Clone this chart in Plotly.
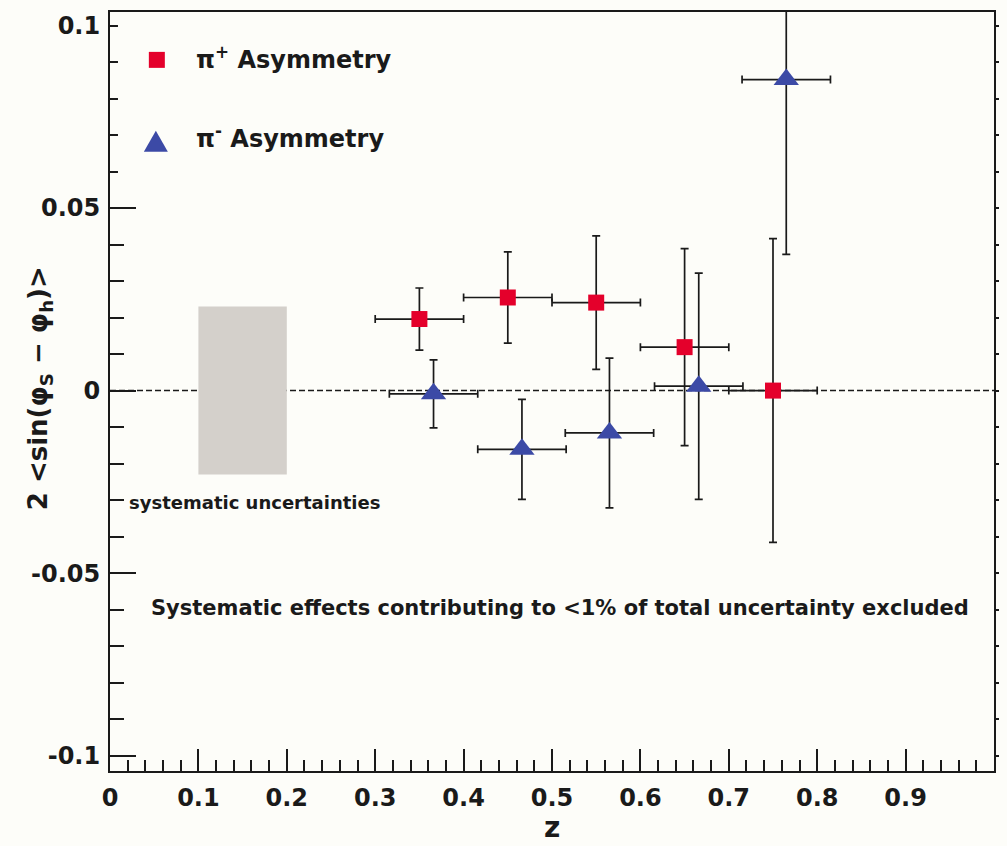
import plotly.graph_objects as go

# pi+ asymmetry vs z
pip_z = [0.35, 0.45, 0.55, 0.65, 0.75]
pip_asym = [0.0196, 0.0255, 0.0241, 0.0119, 0.0000]
pip_err = [0.0085, 0.0125, 0.0183, 0.0270, 0.0416]
pip_zerr = [0.05, 0.05, 0.05, 0.05, 0.05]

# pi- asymmetry vs z
pim_z = [0.366, 0.466, 0.565, 0.666, 0.765]
pim_asym = [-0.0009, -0.0161, -0.0116, 0.0012, 0.0852]
pim_err = [0.0093, 0.0137, 0.0205, 0.0310, 0.0479]
pim_zerr = [0.05, 0.05, 0.05, 0.05, 0.05]

# systematic uncertainty band
sys_z = [0.1, 0.2]
sys_half = 0.023

x_tick_vals = [0, 0.1, 0.2, 0.3, 0.4, 0.5, 0.6, 0.7, 0.8, 0.9]
x_tick_text = ["0", "0.1", "0.2", "0.3", "0.4", "0.5", "0.6", "0.7", "0.8", "0.9"]
y_tick_vals = [-0.1, -0.05, 0, 0.05, 0.1]
y_tick_text = ["-0.1", "-0.05", "0", "0.05", "0.1"]

BG = "#fdfdf9"
INK = "#1a1a1a"
RED = "#e4002b"
BLUE = "#3c4aa6"
FONT = "DejaVu Sans"

W, H = 1007, 846
L, R, T, B = 110, 10, 10, 75
PW, PH = W - L - R, H - T - B


def px_x(p):
    return (p - L) / PW


def px_y(p):
    return (H - B - p) / PH


fig = go.Figure()

fig.add_trace(go.Scatter(
    x=pip_z, y=pip_asym, mode="markers", name="π+ Asymmetry",
    marker=dict(symbol="square", size=16, color=RED),
    error_y=dict(type="data", array=pip_err, color=INK, thickness=1.7, width=4),
    error_x=dict(type="data", array=pip_zerr, color=INK, thickness=1.7, width=4),
    showlegend=False,
))
fig.add_trace(go.Scatter(
    x=pim_z, y=pim_asym, mode="markers", name="π- Asymmetry",
    marker=dict(symbol="triangle-up", size=22, color=BLUE),
    error_y=dict(type="data", array=pim_err, color=INK, thickness=1.7, width=4),
    error_x=dict(type="data", array=pim_zerr, color=INK, thickness=1.7, width=4),
    showlegend=False,
))
# invisible trace to activate the right-hand axis
fig.add_trace(go.Scatter(x=[0], y=[0], yaxis="y2", mode="markers",
                         marker=dict(opacity=0), showlegend=False, hoverinfo="skip"))

shapes = [
    dict(type="rect", xref="x", yref="y", x0=sys_z[0], x1=sys_z[1],
         y0=-sys_half, y1=sys_half, fillcolor="#d4d0cb", line=dict(width=0),
         layer="below"),
    dict(type="line", xref="paper", yref="y", x0=0, x1=1, y0=0, y1=0,
         line=dict(color=INK, width=1.5, dash="6px,3px"), layer="below"),
    # legend box covering the axis ticks
    dict(type="rect", xref="paper", yref="paper", x0=px_x(118), x1=px_x(420),
         y0=px_y(190), y1=px_y(12), fillcolor=BG, line=dict(width=0), layer="above"),
    # legend glyphs
    dict(type="rect", xref="paper", yref="paper", xsizemode="pixel", ysizemode="pixel",
         xanchor=px_x(157), yanchor=px_y(58), x0=-8, x1=8, y0=-8, y1=8,
         fillcolor=RED, line=dict(width=0), layer="above"),
    dict(type="path", xref="paper", yref="paper", xsizemode="pixel", ysizemode="pixel",
         xanchor=px_x(156), yanchor=px_y(140), path="M -12,-10 L 12,-10 L 0,11 Z",
         fillcolor=BLUE, line=dict(width=0), layer="above"),
]

ann_font = dict(family=FONT, color=INK, weight="bold")
annotations = [
    dict(text="π<sup>+</sup> Asymmetry", x=px_x(194), y=px_y(56), xref="paper", yref="paper",
         xanchor="left", yanchor="middle", showarrow=False, font=dict(size=24, **ann_font)),
    dict(text="π<sup>-</sup> Asymmetry", x=px_x(194), y=px_y(135), xref="paper", yref="paper",
         xanchor="left", yanchor="middle", showarrow=False, font=dict(size=24, **ann_font)),
    dict(text="systematic uncertainties", x=px_x(127), y=px_y(502), xref="paper", yref="paper",
         xanchor="left", yanchor="middle", showarrow=False, font=dict(size=18, **ann_font)),
    dict(text="Systematic effects contributing to <1% of total uncertainty excluded",
         x=px_x(149), y=px_y(608), xref="paper", yref="paper",
         xanchor="left", yanchor="middle", showarrow=False, font=dict(size=21, **ann_font)),
    dict(text="2 &lt;sin(φ<sub>S</sub> − φ<sub>h</sub>)&gt;", x=px_x(39), y=px_y(387),
         xref="paper", yref="paper", xanchor="center", yanchor="middle", textangle=-90,
         showarrow=False, font=dict(size=26, **ann_font)),
    dict(text="z", x=px_x(553), y=px_y(828), xref="paper", yref="paper",
         xanchor="center", yanchor="middle", showarrow=False,
         font=dict(size=28, **ann_font)),
]

tickfont = dict(family=FONT, size=24, color=INK, weight="bold")

fig.update_layout(
    width=W, height=H,
    margin=dict(l=L, r=R, t=T, b=B),
    paper_bgcolor=BG, plot_bgcolor=BG,
    shapes=shapes, annotations=annotations,
    xaxis=dict(
        range=[0, 1.0], showgrid=False, zeroline=False,
        showline=True, linecolor=INK, linewidth=2, mirror=True,
        ticks="inside", ticklen=22, tickwidth=1.5, tickcolor=INK,
        tickvals=x_tick_vals, ticktext=x_tick_text, tickfont=tickfont,
        ticklabelstandoff=4,
        minor=dict(ticks="inside", ticklen=11, tickwidth=1.5, tickcolor=INK,
                   tick0=0, dtick=0.02, showgrid=False),
    ),
    yaxis=dict(
        range=[-0.1042, 0.1037], showgrid=False, zeroline=False,
        showline=True, linecolor=INK, linewidth=2,
        ticks="inside", ticklen=26, tickwidth=1.5, tickcolor=INK,
        tickvals=y_tick_vals, ticktext=y_tick_text, tickfont=tickfont,
        ticklabelstandoff=3,
        minor=dict(ticks="inside", ticklen=14, tickwidth=1.5, tickcolor=INK,
                   tick0=0, dtick=0.01, showgrid=False),
    ),
    yaxis2=dict(
        range=[-0.1042, 0.1037], overlaying="y", side="right", showgrid=False,
        zeroline=False, showline=True, linecolor=INK, linewidth=2,
        ticks="outside", ticklen=3, tickwidth=1.5, tickcolor=INK,
        tick0=0, dtick=0.01, showticklabels=False,
    ),
    hovermode=False,
)

fig.write_html("out.html")
